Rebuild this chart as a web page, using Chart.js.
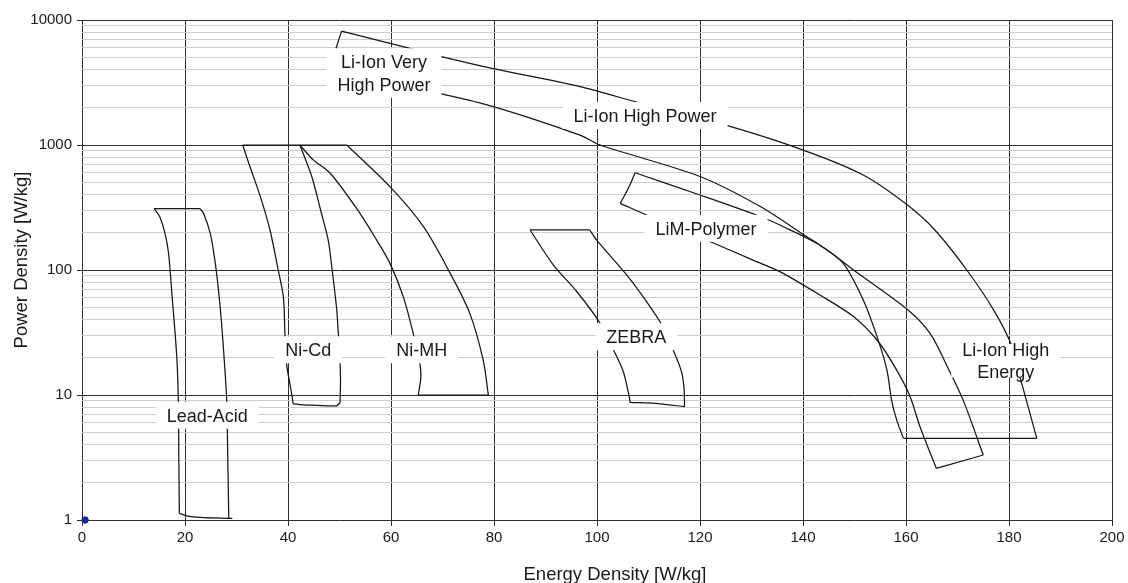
<!DOCTYPE html>
<html>
<head>
<meta charset="utf-8">
<script src="https://cdn.jsdelivr.net/npm/chart.js@4.4.1/dist/chart.umd.min.js"></script>
<style>
html,body{margin:0;padding:0;background:#fff;}
canvas{display:block;}
</style>
</head>
<body>
<canvas id="c" width="1128" height="583"></canvas>
<script>
// ---------- data: [energy density, power density] ----------
const xTickStep = 20;
const xRange = [0, 200];
const yRange = [1, 10000];
const yTickValues = [1,2,3,4,5,6,7,8,9,10,20,30,40,50,60,70,80,90,100,200,300,400,500,600,700,800,900,1000,2000,3000,4000,5000,6000,7000,8000,9000,10000];

// Lead-Acid
const leadAcidTop    = [[14.0,310],[22.9,310]];
const leadAcidLeft   = [[14.0,310],[15.1,267],[16.1,197],[16.8,137],[17.4,69],[18.4,20.3],[18.7,9.1],[18.8,3.2],[18.9,1.13]];
const leadAcidRight  = [[22.9,310],[23.6,284],[24.9,196],[25.8,120],[26.5,69],[27.1,37.5],[27.8,14.9],[28.1,9.1],[28.3,3.2],[28.5,1.03]];
const leadAcidBottom = [[18.9,1.13],[20.3,1.08],[22.9,1.05],[29.2,1.03]];

// Ni-Cd
const niCdTop    = [[31.2,1000],[42.3,1000]];
const niCdLeft   = [[31.2,1000],[32.6,673],[34.6,390],[36.5,209],[38.1,100],[39.1,61],[39.4,31.4],[39.7,18],[40.7,10.3],[41.0,8.5]];
const niCdBottom = [[41.0,8.5],[43.0,8.35],[49.4,8.2],[50.1,8.7]];
const niCdRight  = [[50.1,8.7],[50.2,13],[50.1,18],[49.8,30],[49.4,51],[48.5,106],[47.8,174],[46.5,283],[44.6,562],[42.3,1000]];

// Ni-MH
const niMHTop    = [[42.3,1000],[51.4,1000]];
const niMHLeft   = [[42.3,1000],[44.9,760],[48.2,594],[54.0,283],[57.2,174],[59.8,113],[62.4,61],[64.3,31.3],[65.6,18],[65.8,14],[65.3,10]];
const niMHRight  = [[51.4,1000],[59.8,464],[66.3,222],[71.5,94],[75.3,45],[77.9,19],[78.9,10]];
const niMHBottom = [[65.3,10],[78.9,10]];

// ZEBRA
const zebraTop    = [[87.0,209],[98.6,209]];
const zebraLeft   = [[87.0,209],[91.5,110],[96.1,67],[100.6,37.5],[103.2,22.9],[105.1,15.4],[106.3,9.5],[106.4,8.74]];
const zebraBottom = [[106.4,8.74],[112.2,8.5],[117.0,8.06]];
const zebraRight  = [[98.6,209],[99.9,174],[105.8,91],[109.6,56],[112.6,36.3],[114.8,22.9],[116.4,15.4],[116.9,11.3],[117.0,8.06]];

// LiM-Polymer
const limTop    = [[107.4,600],[120,398],[131.7,268],[135.5,229],[143.3,158],[149.8,100],[160.4,47.9],[164.7,31],[168.2,16.3],[171.1,9.1],[175.0,3.31]];
const limLeft   = [[107.4,600],[106.4,479],[105.4,398],[104.5,341]];
const limLower  = [[104.5,341],[110.3,268],[121.9,169],[130.3,120],[135.5,97],[143.3,63],[149.8,42.4],[154.6,26.8],[158.2,15.8],[160.8,9.7],[162.7,5.6],[165.9,2.59]];
const limBottom = [[165.9,2.59],[175.0,3.31]];

// Li-Ion (very high power / high power / high energy envelope)
const liIonCorner = [[49.3,5900],[50.4,8150]];
const liIonUpper  = [[50.4,8150],[65.0,5750],[69.8,5100],[79.9,4080],[96.7,2930],[109,2130],[125.5,1420],[140.7,890],[151.7,575],[160.1,335],[165.6,209],[171.8,100],[177,48],[180.5,25],[182.1,14.1],[185.4,4.5]];
const liIonHidden = [[49.3,5900],[69.5,2590]];
const liIonLower  = [[69.5,2590],[79.9,2030],[96.7,1200],[100.6,1000],[120,560],[131.7,322],[140.7,185],[143.3,158],[147.8,113],[151.7,57.5],[154.6,27.5],[156.3,15.8],[157.2,9.1],[158.2,6.3],[159.5,4.5]];
const liIonBottom = [[159.5,4.5],[185.4,4.5]];

const originPoint = [[0.6,1]];

// region labels (text, energy, power)
const labelTexts  = ['Lead-Acid','Ni-Cd','Ni-MH','ZEBRA','LiM-Polymer','Li-Ion High Power','Li-Ion Very\nHigh Power','Li-Ion High\nEnergy'];
const labelX      = [24.31, 43.94, 65.96, 107.63, 121.17, 109.32, 58.64, 179.38];
const labelY      = [6.88, 23.0, 23.0, 29.3, 215.6, 1722, 3767, 18.8];

const xTitle = 'Energy Density [W/kg]';
const yTitle = 'Power Density [W/kg]';

// ---------- build ----------
const edges = [
  [leadAcidTop,false],[leadAcidLeft,true],[leadAcidRight,true],[leadAcidBottom,true],
  [niCdTop,false],[niCdLeft,true],[niCdBottom,true],[niCdRight,true],
  [niMHTop,false],[niMHLeft,true],[niMHRight,true],[niMHBottom,false],
  [zebraTop,false],[zebraLeft,true],[zebraBottom,true],[zebraRight,true],
  [limTop,true],[limLeft,true],[limLower,true],[limBottom,false],
  [liIonCorner,false],[liIonUpper,true],[liIonHidden,false],[liIonLower,true],[liIonBottom,false]
];
const toXY = a => a.map(([x,y]) => ({x, y}));
const datasets = edges.map(([pts, curved]) => ({
  data: toXY(pts),
  showLine: true,
  borderColor: '#161616',
  borderWidth: 1.25,
  pointRadius: 0,
  fill: false,
  tension: curved ? 0.3 : 0
}));
datasets.push({
  data: toXY(originPoint),
  showLine: false,
  pointRadius: 3.2,
  pointBackgroundColor: '#1a2696',
  pointBorderColor: '#1a2696',
  clip: false
});

const isMajor = v => Math.abs(Math.log10(v) - Math.round(Math.log10(v))) < 1e-9;
const FONT = '"Liberation Sans", Arial, Helvetica, sans-serif';

const labelPlugin = {
  id: 'regionLabels',
  afterDatasetsDraw(chart) {
    const {ctx} = chart;
    const xs = chart.scales.x, ys = chart.scales.y;
    ctx.save();
    ctx.font = '18px ' + FONT;
    ctx.textAlign = 'center';
    ctx.textBaseline = 'alphabetic';
    const lh = 22.5, capHalf = 6.4, halfBox = 13.5;
    labelTexts.forEach((t, i) => {
      const lines = t.split('\n');
      const cx = xs.getPixelForValue(labelX[i]);
      const cy = ys.getPixelForValue(labelY[i]);
      const w = Math.max(...lines.map(s => ctx.measureText(s).width));
      const first = cy - (lines.length - 1) * lh / 2;
      const last = first + (lines.length - 1) * lh;
      const tight = t.startsWith('Li-Ion High\n') ? 8 : 0;
      ctx.fillStyle = '#fff';
      ctx.fillRect(cx - w/2 - 11, first - halfBox + tight, w + 22, last - first + 2*halfBox - 2*tight);
      ctx.fillStyle = '#1a1a1a';
      lines.forEach((s, k) => ctx.fillText(s, cx, first + k*lh + capHalf));
    });
    ctx.restore();
  },
  afterDraw(chart) {
    const {ctx, chartArea} = chart;
    ctx.save();
    ctx.fillStyle = '#1a1a1a';
    ctx.font = '18.5px ' + FONT;
    ctx.textAlign = 'center';
    ctx.textBaseline = 'alphabetic';
    ctx.fillText(xTitle, (chartArea.left + chartArea.right)/2 + 18, chart.height - 3);
    ctx.translate(27, (chartArea.top + chartArea.bottom)/2 - 10);
    ctx.rotate(-Math.PI/2);
    ctx.fillText(yTitle, 0, 0);
    ctx.restore();
  }
};

new Chart(document.getElementById('c'), {
  type: 'scatter',
  data: { datasets },
  plugins: [labelPlugin],
  options: {
    responsive: false,
    animation: false,
    events: [],
    layout: { padding: { left: 0, right: 16, top: 20, bottom: 0 } },
    plugins: { legend: { display: false }, tooltip: { enabled: false } },
    scales: {
      x: {
        type: 'linear',
        min: xRange[0], max: xRange[1],
        ticks: { stepSize: xTickStep, maxRotation: 0, padding: 3, color: '#1a1a1a', font: { family: FONT, size: 15 } },
        grid: { color: '#2e2e2e', lineWidth: 1, tickLength: 6, tickColor: '#2e2e2e' },
        border: { display: false },
        afterFit: s => { s.height = 63; }
      },
      y: {
        type: 'logarithmic',
        min: yRange[0], max: yRange[1],
        afterBuildTicks: s => { s.ticks = yTickValues.map(v => ({ value: v, major: isMajor(v) })); },
        ticks: {
          autoSkip: false,
          padding: 5,
          color: '#1a1a1a',
          font: { family: FONT, size: 15 },
          callback: v => isMajor(v) ? String(v) : ''
        },
        grid: {
          lineWidth: 1,
          tickLength: 5,
          color: c => (c.tick && isMajor(c.tick.value)) ? '#2e2e2e' : '#cdcdcd',
          tickColor: c => (c.tick && isMajor(c.tick.value)) ? '#2e2e2e' : 'rgba(0,0,0,0)'
        },
        border: { display: false },
        afterFit: s => { s.width = 82; }
      }
    }
  }
});
</script>
</body>
</html>
